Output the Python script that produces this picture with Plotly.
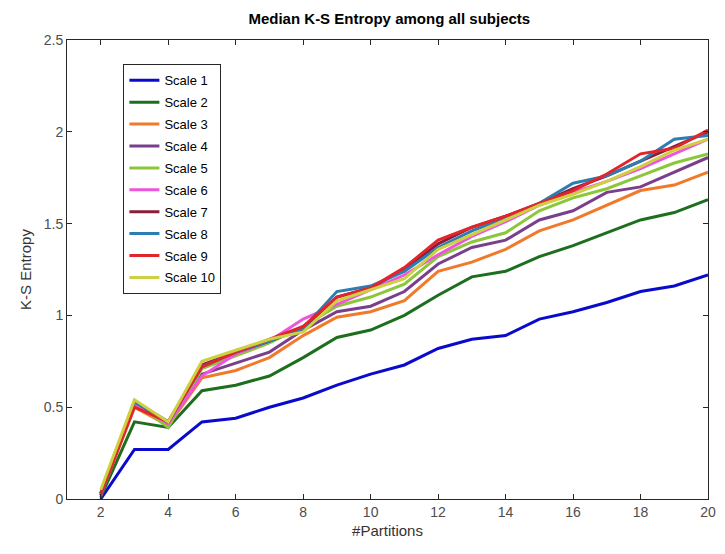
import plotly.graph_objects as go

partitions = list(range(2, 21))

scale_names = ["Scale 1", "Scale 2", "Scale 3", "Scale 4", "Scale 5",
               "Scale 6", "Scale 7", "Scale 8", "Scale 9", "Scale 10"]

scale1 = [0.00, 0.27, 0.27, 0.42, 0.44, 0.50, 0.55, 0.62, 0.68, 0.73, 0.82, 0.87, 0.89, 0.98, 1.02, 1.07, 1.13, 1.16, 1.22]
scale2 = [0.01, 0.42, 0.39, 0.59, 0.62, 0.67, 0.77, 0.88, 0.92, 1.00, 1.11, 1.21, 1.24, 1.32, 1.38, 1.45, 1.52, 1.56, 1.63]
scale3 = [0.02, 0.50, 0.40, 0.66, 0.70, 0.77, 0.89, 0.99, 1.02, 1.08, 1.24, 1.29, 1.36, 1.46, 1.52, 1.60, 1.68, 1.71, 1.78]
scale4 = [0.02, 0.52, 0.41, 0.68, 0.74, 0.80, 0.92, 1.02, 1.05, 1.13, 1.28, 1.37, 1.41, 1.52, 1.57, 1.67, 1.70, 1.78, 1.86]
scale5 = [0.03, 0.53, 0.39, 0.71, 0.78, 0.85, 0.94, 1.05, 1.10, 1.17, 1.32, 1.40, 1.45, 1.57, 1.64, 1.69, 1.76, 1.83, 1.88]
scale6 = [0.03, 0.52, 0.41, 0.67, 0.79, 0.86, 0.98, 1.06, 1.14, 1.22, 1.33, 1.43, 1.51, 1.60, 1.67, 1.73, 1.80, 1.88, 1.96]
scale7 = [0.03, 0.53, 0.42, 0.73, 0.80, 0.86, 0.93, 1.10, 1.15, 1.25, 1.39, 1.48, 1.54, 1.61, 1.69, 1.76, 1.84, 1.92, 2.00]
scale8 = [0.03, 0.53, 0.42, 0.72, 0.80, 0.86, 0.93, 1.13, 1.16, 1.24, 1.37, 1.46, 1.53, 1.61, 1.72, 1.76, 1.84, 1.96, 1.98]
scale9 = [0.03, 0.50, 0.42, 0.72, 0.80, 0.87, 0.94, 1.10, 1.15, 1.26, 1.41, 1.48, 1.54, 1.61, 1.68, 1.77, 1.88, 1.91, 2.01]
scale10 = [0.05, 0.54, 0.42, 0.75, 0.81, 0.87, 0.91, 1.08, 1.14, 1.20, 1.36, 1.44, 1.52, 1.60, 1.66, 1.73, 1.81, 1.90, 1.96]

series = [scale1, scale2, scale3, scale4, scale5, scale6, scale7, scale8, scale9, scale10]

colors = ["#0a0acc", "#1d6e1d", "#f07a2a", "#7a3f8c", "#8cc63a",
          "#ee55dd", "#8a1c3c", "#2b7db3", "#e0262a", "#cdd040"]

x_ticks = [2, 4, 6, 8, 10, 12, 14, 16, 18, 20]
y_ticks = [0, 0.5, 1, 1.5, 2, 2.5]
y_tick_labels = ["0", "0.5", "1", "1.5", "2", "2.5"]

fig = go.Figure()
for i, (name, vals) in enumerate(zip(scale_names, series)):
    fig.add_trace(go.Scatter(
        x=partitions, y=vals, mode="lines", name=name,
        legendgroup=name,
        line=dict(color=colors[i], width=3),
    ))

axis_common = dict(
    showline=True, linecolor="#262626", linewidth=1, mirror="ticks",
    ticks="inside", ticklen=5, tickcolor="#262626", showgrid=False, zeroline=False,
    tickfont=dict(family="Liberation Sans, Arial, sans-serif", size=14, color="#4d4d4d"),
)

fig.update_layout(
    width=725, height=554,
    margin=dict(l=67, r=9, t=40, b=55),
    paper_bgcolor="white", plot_bgcolor="white",
    title=dict(text="<b>Median K-S Entropy among all subjects</b>",
               x=0.537, xanchor="center", y=0.967, yanchor="middle",
               font=dict(family="Liberation Sans, Arial, sans-serif", size=15, color="black")),
    xaxis=dict(range=[1, 20], tickvals=x_ticks,
               title=dict(text="#Partitions", standoff=6,
                          font=dict(family="Liberation Sans, Arial, sans-serif", size=15, color="#333333")),
               **axis_common),
    yaxis=dict(range=[0, 2.5], tickvals=y_ticks, ticktext=y_tick_labels,
               title=dict(text="K-S Entropy", standoff=8,
                          font=dict(family="Liberation Sans, Arial, sans-serif", size=15, color="#333333")),
               **axis_common),
    legend=dict(x=0.088, y=0.947, xanchor="left", yanchor="top",
                bordercolor="#262626", borderwidth=1, bgcolor="white",
                tracegroupgap=2, entrywidth=72, entrywidthmode="pixels",
                font=dict(family="Liberation Sans, Arial, sans-serif", size=13, color="black")),
    showlegend=True,
)

fig.write_html("out.html")
